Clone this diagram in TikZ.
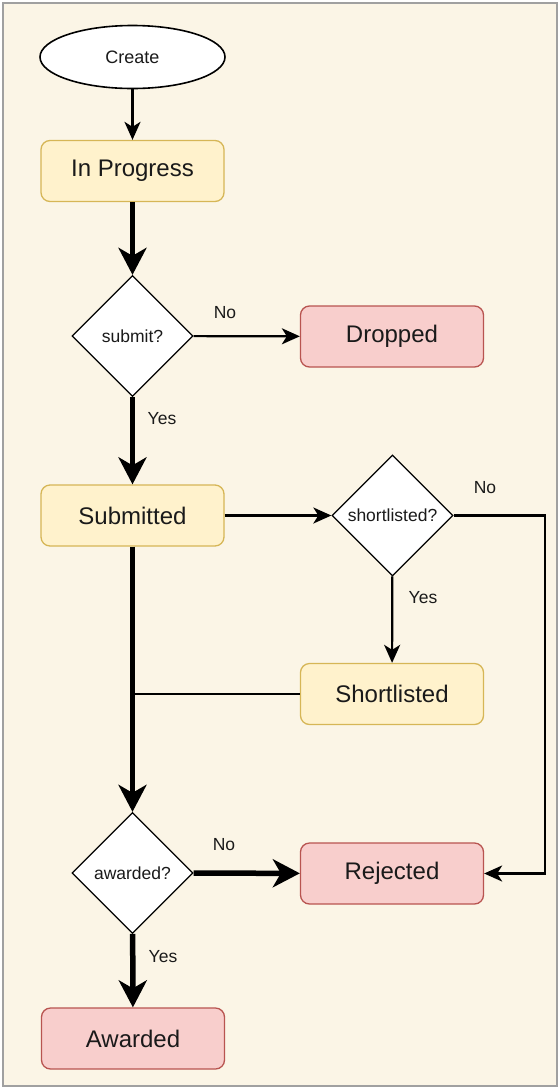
\documentclass[tikz,border=0pt]{standalone}
\usepackage{fontspec}
\setmainfont{Liberation Sans}
\usetikzlibrary{arrows.meta,shapes.geometric}

\definecolor{paper}{HTML}{FBF5E6}
\definecolor{framegray}{HTML}{A0A0A0}
\definecolor{ink}{HTML}{1A1A1A}
\definecolor{yellowfill}{HTML}{FFF2CC}
\definecolor{yellowline}{HTML}{D6B656}
\definecolor{redfill}{HTML}{F8CECC}
\definecolor{redline}{HTML}{B85450}

\tikzset{
  box/.style={rounded corners=9pt, minimum width=183pt, minimum height=61pt,
    line width=1.3pt, text=ink, font=\fontsize{24}{28}\selectfont},
  yellowbox/.style={box, draw=yellowline, fill=yellowfill},
  redbox/.style={box, draw=redline, fill=redfill},
  decision/.style={diamond, aspect=1, draw, fill=white, line width=1.3pt,
    minimum width=121pt, minimum height=121pt, inner sep=0pt,
    text=ink, font=\fontsize{17.5}{20}\selectfont},
  answer/.style={text=ink, font=\fontsize{17.5}{20}\selectfont},
  thinflow/.style={line width=2.2pt, -{Stealth[length=18pt,width=16pt,inset=5pt]}},
  thickflow/.style={line width=5.5pt, -{Stealth[length=27pt,width=28pt,inset=8pt]}},
}

\begin{document}
\begin{tikzpicture}[x=1pt,y=-1pt]
  \useasboundingbox (0,0) rectangle (560,1088);
  \fill[white] (0,0) rectangle (560,1088);
  \draw[framegray, line width=2pt, fill=paper] (3,3) rectangle (557,1086);

  % states and questions
  \node[ellipse, draw, fill=white, line width=1.6pt, minimum width=185pt, minimum height=63pt,
    text=ink, font=\fontsize{18}{21}\selectfont] (create) at (132.5,57) {Create};
  \node[yellowbox] (inprog)      at (132.5,171)   {In Progress};
  \node[decision]  (submitq)     at (132.5,336)   {submit?};
  \node[redbox]    (dropped)     at (392,336.5)   {Dropped};
  \node[yellowbox] (submitted)   at (132.5,515.5) {Submitted};
  \node[decision]  (shortq)      at (392.5,515.5) {shortlisted?};
  \node[yellowbox] (shortlisted) at (392,694)     {Shortlisted};
  \node[decision]  (awardq)      at (132.5,873)   {awarded?};
  \node[redbox]    (rejected)    at (392,873.5)   {Rejected};
  \node[redbox]    (awarded)     at (133,1038.5)  {Awarded};

  \coordinate (rside) at (545,515.5);
  \coordinate (join) at (submitted |- shortlisted);

  % connectors
  \draw[thinflow]  (create) -- (inprog);
  \draw[thickflow] (inprog) -- (submitq);
  \draw[thinflow]  (submitq) -- (dropped);
  \draw[thickflow] (submitq) -- (submitted);
  \draw[thinflow]  (submitted) -- (shortq);
  \draw[thinflow]  (shortq) -- (shortlisted);
  \draw[thinflow]  (shortq.east) -- (rside) |- (rejected.east);
  \draw[line width=2.2pt] (shortlisted.west) -- (join);
  \draw[thickflow] (submitted) -- (awardq);
  \draw[thickflow] (awardq) -- (rejected);
  \draw[thickflow] (awardq) -- (awarded);

  % answers
  \node[answer] (no1)  at (225,313)   {No};
  \node[answer] (yes1) at (162,419)   {Yes};
  \node[answer] (no2)  at (485,488)   {No};
  \node[answer] (yes2) at (423,598)   {Yes};
  \node[answer] (no3)  at (224,845)   {No};
  \node[answer] (yes3) at (163,957)   {Yes};
\end{tikzpicture}
\end{document}
